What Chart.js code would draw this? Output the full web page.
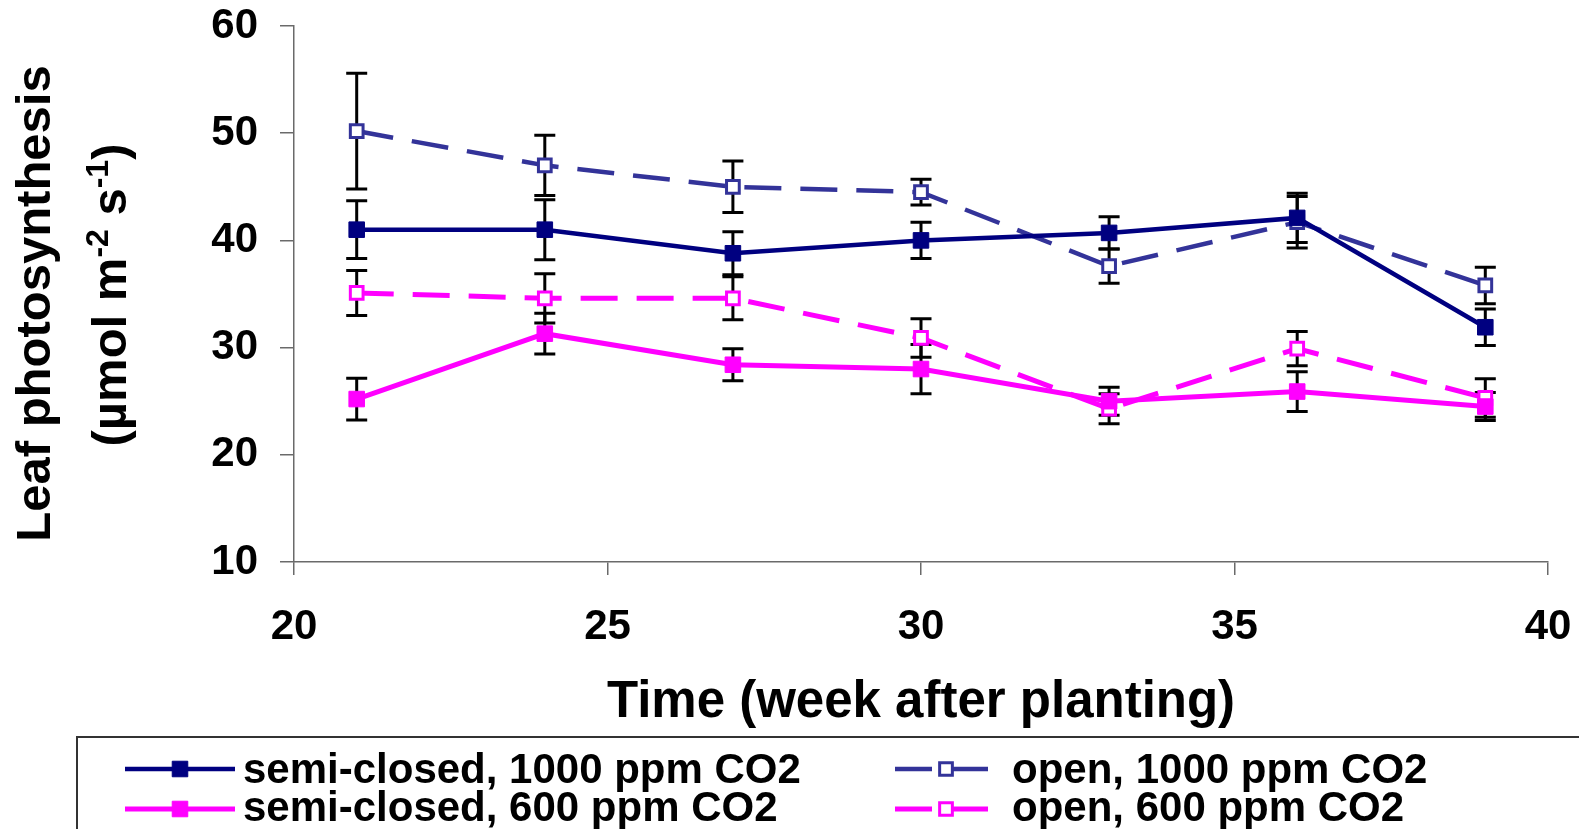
<!DOCTYPE html>
<html><head><meta charset="utf-8">
<script src="https://cdn.jsdelivr.net/npm/chart.js@4.4.1/dist/chart.umd.min.js"></script>
<style>html,body{margin:0;padding:0;background:#fff;} #wrap{width:1579px;height:829px;position:relative;}</style>
</head><body><div id="wrap"><canvas id="c" width="1579" height="829"></canvas></div>
<script>
// ---------- data ----------
const weeks = [21, 24, 27, 30, 33, 36, 39];
const xTickValues = [20, 25, 30, 35, 40];
const yTickValues = [10, 20, 30, 40, 50, 60];
const seriesLabels = ['semi-closed, 1000 ppm CO2', 'open, 1000 ppm CO2', 'semi-closed, 600 ppm CO2', 'open, 600 ppm CO2'];
const semi1000 = [41.0, 41.0, 38.8, 40.0, 40.7, 42.1, 31.9];
const semi1000Err = [2.7, 2.8, 2.0, 1.7, 1.5, 2.3, 1.7];
const open1000 = [50.2, 47.0, 45.0, 44.5, 37.6, 41.7, 35.8];
const open1000Err = [5.4, 2.8, 2.4, 1.2, 1.6, 2.4, 1.7];
const semi600 = [25.2, 31.3, 28.4, 28.0, 25.0, 25.9, 24.5];
const semi600Err = [1.95, 1.9, 1.5, 2.3, 1.3, 1.85, 1.3];
const open600 = [35.1, 34.6, 34.6, 30.9, 24.3, 29.9, 25.3];
const open600Err = [2.1, 2.3, 2.0, 1.8, 1.4, 1.6, 1.8];
const xTitle = 'Time (week after planting)';
const yTitleLine1 = 'Leaf photosynthesis';
const yTitleLine2 = [['(µmol m', false], ['-2', true], [' s', false], ['-1', true], [')', false]];

const FONT = '"Liberation Sans", Arial, sans-serif';
const NAVY = '#000080', BLUE = '#333399', MAG = '#FF00FF';

function pts(vals) { return weeks.map((w, i) => ({ x: w, y: vals[i] })); }

function mkDs(label, vals, errs, color, filled, dashed, lw) {
  return {
    label, data: pts(vals), errors: errs,
    borderColor: color, borderWidth: lw, borderDash: dashed ? [37, 19] : [],
    backgroundColor: filled ? color : '#FFFFFF',
    pointStyle: 'rect', pointRadius: filled ? 11 : 9,
    pointBorderWidth: filled ? 1 : 3,
    pointBorderColor: color, pointBackgroundColor: filled ? color : '#FFFFFF',
    tension: 0, fill: false
  };
}

const datasets = [
  mkDs(seriesLabels[0], semi1000, semi1000Err, NAVY, true, false, 4.5),
  mkDs(seriesLabels[1], open1000, open1000Err, BLUE, false, true, 4.5),
  mkDs(seriesLabels[2], semi600, semi600Err, MAG, true, false, 5),
  mkDs(seriesLabels[3], open600, open600Err, MAG, false, true, 5)
];

const errorBars = {
  id: 'errorBars',
  beforeDatasetsDraw(chart) {
    const { ctx, scales: { x, y } } = chart;
    ctx.save();
    ctx.strokeStyle = '#000'; ctx.lineWidth = 3; ctx.setLineDash([]);
    chart.data.datasets.forEach(ds => {
      ds.data.forEach((p, i) => {
        const e = ds.errors[i];
        const px = x.getPixelForValue(p.x);
        const yt = y.getPixelForValue(p.y + e), yb = y.getPixelForValue(p.y - e);
        ctx.beginPath();
        ctx.moveTo(px, yt); ctx.lineTo(px, yb);
        ctx.moveTo(px - 10.5, yt); ctx.lineTo(px + 10.5, yt);
        ctx.moveTo(px - 10.5, yb); ctx.lineTo(px + 10.5, yb);
        ctx.stroke();
      });
    });
    ctx.restore();
  }
};

function drawMarker(ctx, ds, cx, cy) {
  const s = Math.SQRT1_2 * ds.pointRadius;
  ctx.save();
  ctx.setLineDash([]);
  ctx.beginPath();
  ctx.rect(cx - s, cy - s, 2 * s, 2 * s);
  ctx.fillStyle = ds.pointBackgroundColor; ctx.fill();
  ctx.lineWidth = ds.pointBorderWidth; ctx.strokeStyle = ds.pointBorderColor; ctx.stroke();
  ctx.restore();
}

const decorations = {
  id: 'decorations',
  afterDraw(chart) {
    const ctx = chart.ctx;
    const area = chart.chartArea;
    ctx.save();
    // x title
    ctx.fillStyle = '#000';
    ctx.font = 'bold 51px ' + FONT;
    ctx.textAlign = 'center'; ctx.textBaseline = 'alphabetic';
    ctx.fillText(xTitle, (area.left + area.right) / 2, 717);
    // y title
    ctx.save();
    ctx.translate(50, 303.5);
    ctx.rotate(-Math.PI / 2);
    ctx.font = 'bold 49px ' + FONT;
    ctx.textAlign = 'center';
    ctx.fillText(yTitleLine1, 0, 0);
    ctx.restore();
    ctx.save();
    ctx.translate(126, 295);
    ctx.rotate(-Math.PI / 2);
    ctx.textAlign = 'left';
    const big = 'bold 49px ' + FONT, small = 'bold 32px ' + FONT;
    let total = 0;
    yTitleLine2.forEach(([t, sup]) => { ctx.font = sup ? small : big; total += ctx.measureText(t).width; });
    let xx = -total / 2;
    yTitleLine2.forEach(([t, sup]) => {
      ctx.font = sup ? small : big;
      ctx.fillText(t, xx, sup ? -18 : 0);
      xx += ctx.measureText(t).width;
    });
    ctx.restore();
    // legend box
    ctx.strokeStyle = '#333'; ctx.lineWidth = 2;
    ctx.strokeRect(77, 737, 1600, 200);
    // legend entries
    const cols = [{ l0: 125, l1: 235, m: 180, t: 243 }, { l0: 895, l1: 992, m: 946, t: 1012 }];
    const rows = [{ ly: 769, by: 783 }, { ly: 809, by: 821 }];
    chart.data.datasets.forEach((ds, i) => {
      const c = cols[i % 2], r = rows[Math.floor(i / 2)];
      ctx.save();
      ctx.strokeStyle = ds.borderColor; ctx.lineWidth = ds.borderWidth;
      ctx.setLineDash(ds.borderDash); ctx.lineCap = 'butt';
      ctx.beginPath(); ctx.moveTo(c.l0, r.ly); ctx.lineTo(c.l1, r.ly); ctx.stroke();
      ctx.restore();
      drawMarker(ctx, ds, c.m, r.ly);
      ctx.fillStyle = '#000';
      ctx.font = 'bold 42px ' + FONT;
      ctx.textAlign = 'left'; ctx.textBaseline = 'alphabetic';
      ctx.fillText(ds.label, c.t, r.by);
    });
    ctx.restore();
  }
};

const tickFont = { family: FONT, size: 42, weight: 'bold' };
const axisColor = '#6a6a6a';
function zeroPad(s) { s.paddingTop = 0; s.paddingBottom = 0; s.paddingLeft = 0; s.paddingRight = 0; }

new Chart(document.getElementById('c'), {
  type: 'line',
  data: { datasets },
  options: {
    responsive: false, animation: false,
    layout: { padding: { left: 0, top: 26, right: 31, bottom: 0 } },
    plugins: { legend: { display: false }, tooltip: { enabled: false } },
    scales: {
      x: {
        type: 'linear', min: xTickValues[0], max: xTickValues[xTickValues.length - 1],
        afterBuildTicks: s => { s.ticks = xTickValues.map(v => ({ value: v })); },
        afterFit: s => { s.height = 267; zeroPad(s); },
        ticks: { font: tickFont, color: '#000', padding: 27, maxRotation: 0 },
        grid: { drawOnChartArea: false, tickLength: 13, color: axisColor, lineWidth: 1.5 },
        border: { color: axisColor, width: 1.5 }
      },
      y: {
        type: 'linear', min: yTickValues[0], max: yTickValues[yTickValues.length - 1],
        afterBuildTicks: s => { s.ticks = yTickValues.map(v => ({ value: v })); },
        afterFit: s => { s.width = 294; zeroPad(s); },
        ticks: { font: tickFont, color: '#000', padding: 22 },
        grid: { drawOnChartArea: false, tickLength: 14, color: axisColor, lineWidth: 1.5 },
        border: { color: axisColor, width: 1.5 }
      }
    }
  },
  plugins: [errorBars, decorations]
});
</script></body></html>
